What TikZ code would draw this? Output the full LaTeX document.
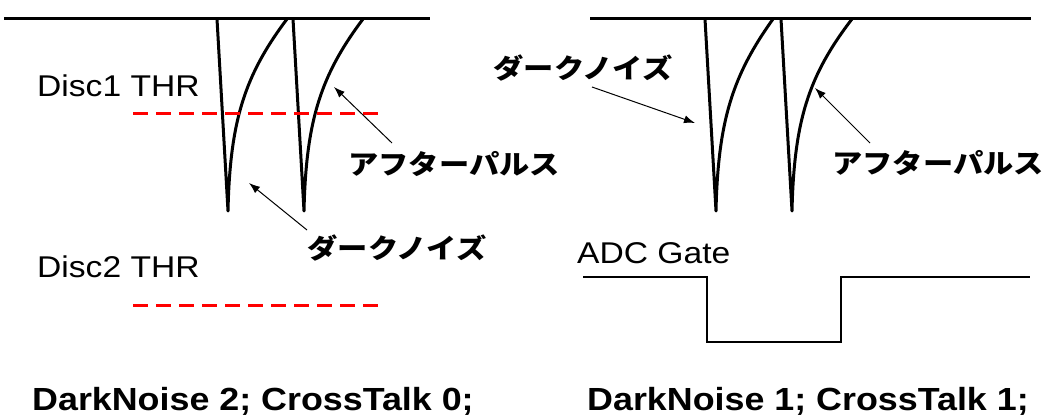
\documentclass[tikz,border=0pt]{standalone}
\usepackage{graphicx}
\usepackage{fontspec}
\setmainfont{Liberation Sans}
\newfontfamily\jp{Noto Sans CJK JP}
\usetikzlibrary{arrows.meta}
\newcommand{\wide}[1]{\scalebox{1.12}[1]{#1}}
\begin{document}
\begin{tikzpicture}[x=1pt,y=-1pt,
  sig/.style={line width=3pt, line join=round},
  gate/.style={line width=2.6pt, line join=miter},
  thr/.style={draw=red, line width=3pt, dash pattern=on 15pt off 8pt},
  ptr/.style={line width=1pt, -{Latex[length=11pt,width=8pt]}},
  lbl/.style={inner sep=0pt, anchor=base west, font=\fontsize{30}{30}\selectfont},
  jlbl/.style={inner sep=0pt, anchor=center, font=\fontsize{27}{27}\selectfont\jp\bfseries},
  res/.style={inner sep=0pt, anchor=base west, font=\fontsize{32}{32}\selectfont\bfseries}]
\useasboundingbox (0,0) rectangle (1049,419);

% baselines
\draw[sig] (4,19) -- (430,19);
\draw[sig] (590,19) -- (1031,19);

% pulses
\foreach \x/\w in {217/70,293/70,705/68,781/71}{
  \draw[sig] (\x,19) -- (\x+11,211) .. controls (\x+13,120) and (\x+28,75) .. (\x+\w,19);
}

% thresholds
\draw[thr] (133,114) -- (383,114);
\draw[thr] (133,306) -- (383,306);

% ADC gate
\draw[gate] (583,277) -- (707,277) -- (707,342) -- (841,342) -- (841,277) -- (1030,277);

% labels
\node[lbl] (disc1) at (37,97) {\wide{Disc1 THR}};
\node[lbl] (disc2) at (37,278) {\wide{Disc2 THR}};
\node[lbl] (adc) at (577,264) {\wide{ADC Gate}};
\node[res] (res1) at (32,410) {\wide{DarkNoise 2; CrossTalk 0;}};
\node[res] (res2) at (587,410) {\wide{DarkNoise 1; CrossTalk 1;}};

\node[jlbl] (ap1) at (454,164) {\wide{アフターパルス}};
\node[jlbl] (dn1) at (397,248) {\wide{ダークノイズ}};
\node[jlbl] (dn2) at (583,68) {\wide{ダークノイズ}};
\node[jlbl] (ap2) at (938,163) {\wide{アフターパルス}};

% pointers
\coordinate (ap1t) at (392,143); \coordinate (ap1h) at (334,87);
\coordinate (dn1t) at (307,230); \coordinate (dn1h) at (249,183);
\coordinate (dn2t) at (592,87);  \coordinate (dn2h) at (695,123);
\coordinate (ap2t) at (870,143); \coordinate (ap2h) at (815,88);
\draw[ptr] (ap1t) -- (ap1h);
\draw[ptr] (dn1t) -- (dn1h);
\draw[ptr] (dn2t) -- (dn2h);
\draw[ptr] (ap2t) -- (ap2h);
\end{tikzpicture}
\end{document}
